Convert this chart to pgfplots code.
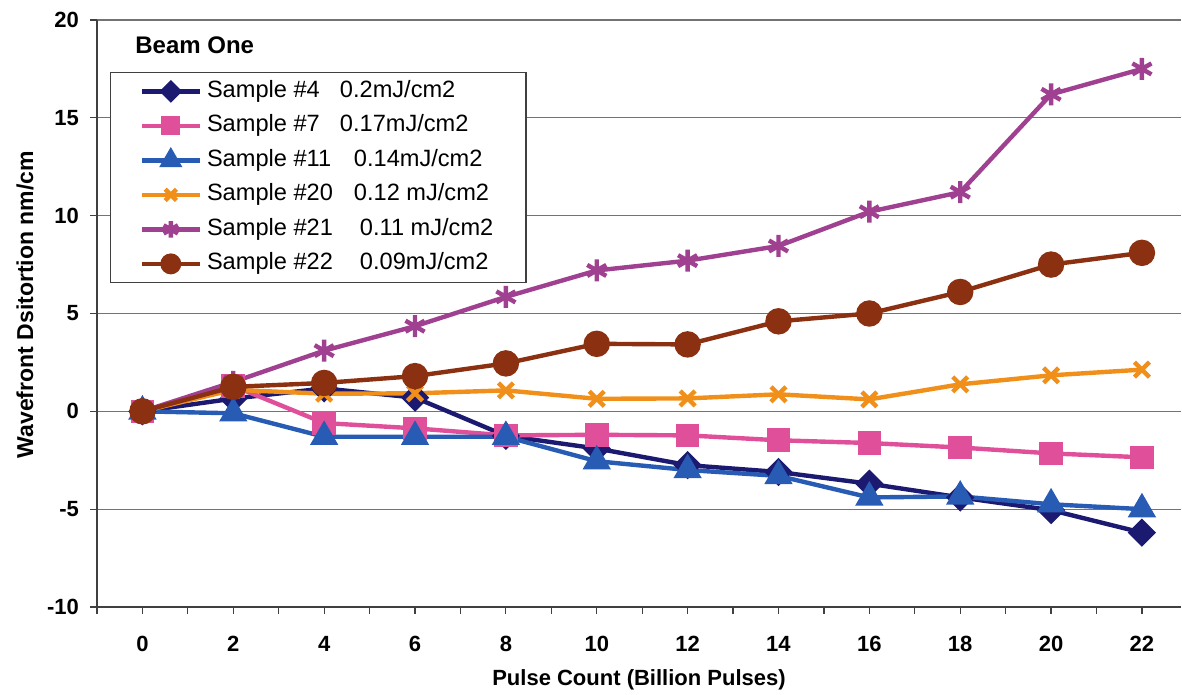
\documentclass[border=0pt]{standalone}
\usepackage{fontspec}
\setmainfont{Liberation Sans}
\usepackage{pgfplots}
\pgfplotsset{compat=1.18}
\definecolor{cnavy}{RGB}{28,26,112}
\definecolor{cpink}{RGB}{224,80,154}
\definecolor{cblue}{RGB}{40,92,180}
\definecolor{corange}{RGB}{240,144,26}
\definecolor{cpurple}{RGB}{160,64,144}
\definecolor{cbrown}{RGB}{139,48,16}
\newcommand{\entry}[3]{\makebox[145pt][l]{\makebox[#1][l]{#2}#3}}
\begin{document}
\begin{tikzpicture}
\begin{axis}[
  at={(48.5pt,44pt)}, anchor=south west,
  scale only axis, width=542pt, height=293.5pt,
  xmin=-1, xmax=22.86, ymin=-10, ymax=20,
  xtick={0,2,...,22}, minor xtick={-1,1,...,21},
  ytick={-10,-5,...,20},
  axis x line*=bottom, axis y line*=left,
  axis line style={black!75, line width=0.8pt},
  tick style={black!75, line width=0.6pt},
  major tick length=3.5pt, minor tick length=3.5pt,
  xtick align=outside, ytick align=outside,
  ymajorgrids, grid style={black!55, line width=0.6pt},
  /pgf/number format/assume math mode=true,
  ticklabel style={font=\bfseries\fontsize{11}{13}\selectfont},
  xticklabel style={yshift=-7.5pt},
  yticklabel style={xshift=-2pt},
  xlabel={\bfseries\fontsize{11}{13}\selectfont Pulse Count (Billion Pulses)},
  ylabel={\bfseries\fontsize{11.5}{13}\selectfont Wavefront Dsitortion nm/cm},
  xlabel style={at={(axis description cs:0.5,0)}, anchor=center, yshift=-36.5pt},
  ylabel style={at={(axis description cs:-0.0664,0.515)}, anchor=center},
  legend style={at={(0.012,0.9114)}, anchor=north west, draw=black!75, line width=0.6pt,
    font=\fontsize{11.8}{13}\selectfont, row sep=6.25pt, column sep=2.5pt,
    inner xsep=14.5pt, inner ysep=3.9pt,
    nodes={inner sep=0pt, text height=8.5pt, text depth=2.5pt}},
  legend cell align=left,
  legend image code/.code={\draw[mark repeat=2,mark phase=2, /tikz/every mark/.append style={scale=0.75}] plot coordinates {(0pt,0pt) (14.5pt,0pt) (29pt,0pt)};},
  every axis plot/.append style={line width=2.2pt, mark options={solid}},
  clip=false,
]
\addplot[cnavy, mark=square*, mark size=3.9pt, mark options={solid, rotate=45}] coordinates {(0,0) (2,0.65) (4,1.17) (6,0.7) (8,-1.25) (10,-1.9) (12,-2.75) (14,-3.1) (16,-3.7) (18,-4.4) (20,-5.05) (22,-6.2)};
\addlegendentry{\entry{66.5pt}{Sample \#4}{0.2mJ/cm2}}
\addplot[cpink, mark=square*, mark size=4.8pt] coordinates {(0,0) (2,1.3) (4,-0.6) (6,-0.87) (8,-1.23) (10,-1.2) (12,-1.23) (14,-1.48) (16,-1.62) (18,-1.85) (20,-2.15) (22,-2.35)};
\addlegendentry{\entry{66.5pt}{Sample \#7}{0.17mJ/cm2}}
\addplot[cblue, mark=triangle*, mark size=6pt] coordinates {(0,0) (2,-0.1) (4,-1.3) (6,-1.3) (8,-1.3) (10,-2.55) (12,-3.0) (14,-3.3) (16,-4.4) (18,-4.35) (20,-4.75) (22,-5.0)};
\addlegendentry{\entry{73.5pt}{Sample \#11}{0.14mJ/cm2}}
\addplot[corange, mark=x, mark size=5.3pt] coordinates {(0,0) (2,1.1) (4,0.9) (6,0.92) (8,1.07) (10,0.64) (12,0.66) (14,0.87) (16,0.61) (18,1.38) (20,1.84) (22,2.13)};
\addlegendentry{\entry{73.5pt}{Sample \#20}{0.12 mJ/cm2}}
\addplot[cpurple, mark=asterisk, mark size=5.5pt] coordinates {(0,0) (2,1.5) (4,3.1) (6,4.35) (8,5.85) (10,7.2) (12,7.7) (14,8.45) (16,10.2) (18,11.2) (20,16.2) (22,17.5)};
\addlegendentry{\entry{76.5pt}{Sample \#21}{0.11 mJ/cm2}}
\addplot[cbrown, mark=*, mark size=5.5pt] coordinates {(0,0) (2,1.25) (4,1.45) (6,1.8) (8,2.45) (10,3.45) (12,3.42) (14,4.6) (16,5.0) (18,6.1) (20,7.5) (22,8.1)};
\addlegendentry{\entry{76.5pt}{Sample \#22}{0.09mJ/cm2}}
\node[anchor=west, inner sep=0pt, font=\bfseries\fontsize{12}{14}\selectfont] at (rel axis cs:0.035,0.957) {Beam One};
\end{axis}
\pgfresetboundingbox
\path (0,0) rectangle (591pt,347.5pt);
\end{tikzpicture}
\end{document}
